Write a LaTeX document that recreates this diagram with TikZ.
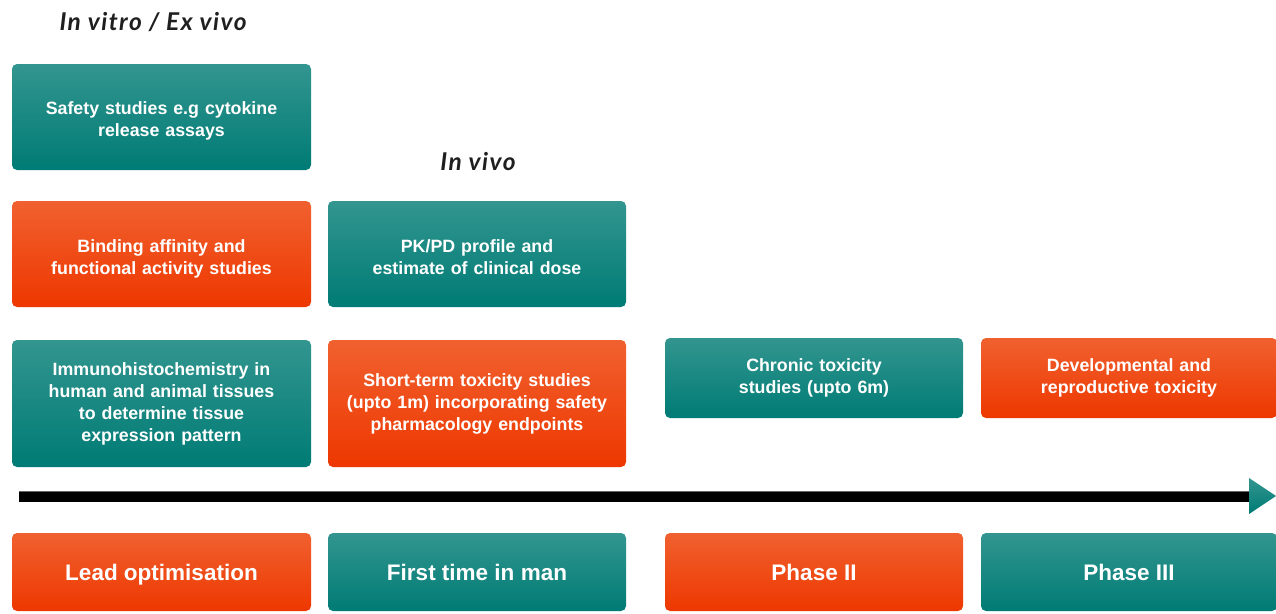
\documentclass[tikz,border=0pt]{standalone}
\usepackage{fontspec}
\setmainfont{Liberation Sans}
\newfontfamily\titlefont{Lato}[LetterSpace=6]
\definecolor{tealtop}{HTML}{33958F}
\definecolor{tealbot}{HTML}{007B75}
\definecolor{orgtop}{HTML}{F0612F}
\definecolor{orgbot}{HTML}{EE3700}
\newcommand\pushdown[1]{\rule{0pt}{#1}}
\tikzset{
  card/.style={rounded corners=5pt, inner sep=0pt, align=center, text=white,
    font=\bfseries\fontsize{17.8}{22}\selectfont},
  tealbox/.style={card, top color=tealtop, bottom color=tealbot},
  orgbox/.style={card, top color=orgtop, bottom color=orgbot},
  phase/.style={font=\bfseries\fontsize{22.5}{26}\selectfont, text height=16.5pt, text depth=0pt},
  heading/.style={font=\titlefont\bfseries\itshape\fontsize{24.5}{28}\selectfont, text=black!88, inner sep=0pt},
}
\begin{document}
\begin{tikzpicture}[x=1pt,y=-1pt]
\useasboundingbox (0,0) rectangle (1276,613);
% headings
\node[heading] (hvitro) at (153,22) {In vitro / Ex vivo};
\node[heading] (hvivo) at (478,162) {In vivo};
% column 1
\node[tealbox, minimum width=299pt, minimum height=106pt, text width=285pt] (safety) at (161.5,117) {\pushdown{21pt}Safety studies e.g cytokine\\release assays};
\node[orgbox, minimum width=299pt, minimum height=106pt, text width=285pt] (binding) at (161.5,254) {\pushdown{23pt}Binding affinity and\\functional activity studies};
\node[tealbox, minimum width=299pt, minimum height=127pt, text width=285pt] (ihc) at (161.5,403.5) {Immunohistochemistry in\\human and animal tissues\\to determine tissue\\expression pattern};
% column 2
\node[tealbox, minimum width=298pt, minimum height=106pt, text width=285pt] (pkpd) at (477,254) {\pushdown{19pt}PK/PD profile and\\estimate of clinical dose};
\node[orgbox, minimum width=298pt, minimum height=127pt, text width=285pt] (shortterm) at (477,403.5) {Short-term toxicity studies\\(upto 1m) incorporating safety\\pharmacology endpoints};
% column 3
\node[tealbox, minimum width=298pt, minimum height=80pt, text width=285pt] (chronic) at (814,378) {Chronic toxicity\\studies (upto 6m)};
% column 4
\node[orgbox, minimum width=296pt, minimum height=80pt, text width=285pt] (devtox) at (1129,378) {Developmental and\\reproductive toxicity};
% timeline arrow
\coordinate (arrowstart) at (19,496.5);
\coordinate (arrowend) at (1250,496.5);
\coordinate (tipA) at (1249,478);
\coordinate (tipB) at (1276,496);
\coordinate (tipC) at (1249,514);
\draw[line width=11pt, black] (arrowstart) -- (arrowend);
\draw[line width=1pt, black!60] ([yshift=5.5pt]arrowstart) -- ([yshift=5.5pt]arrowend);
\shade[top color=tealtop, bottom color=tealbot] (tipA) -- (tipB) -- (tipC) -- cycle;
% phases
\node[orgbox, phase, minimum width=299pt, minimum height=78pt] (lead) at (161.5,572) {Lead optimisation};
\node[tealbox, phase, minimum width=298pt, minimum height=78pt] (ftim) at (477,572) {First time in man};
\node[orgbox, phase, minimum width=298pt, minimum height=78pt] (ph2) at (814,572) {Phase II};
\node[tealbox, phase, minimum width=296pt, minimum height=78pt] (ph3) at (1129,572) {Phase III};
\end{tikzpicture}
\end{document}
